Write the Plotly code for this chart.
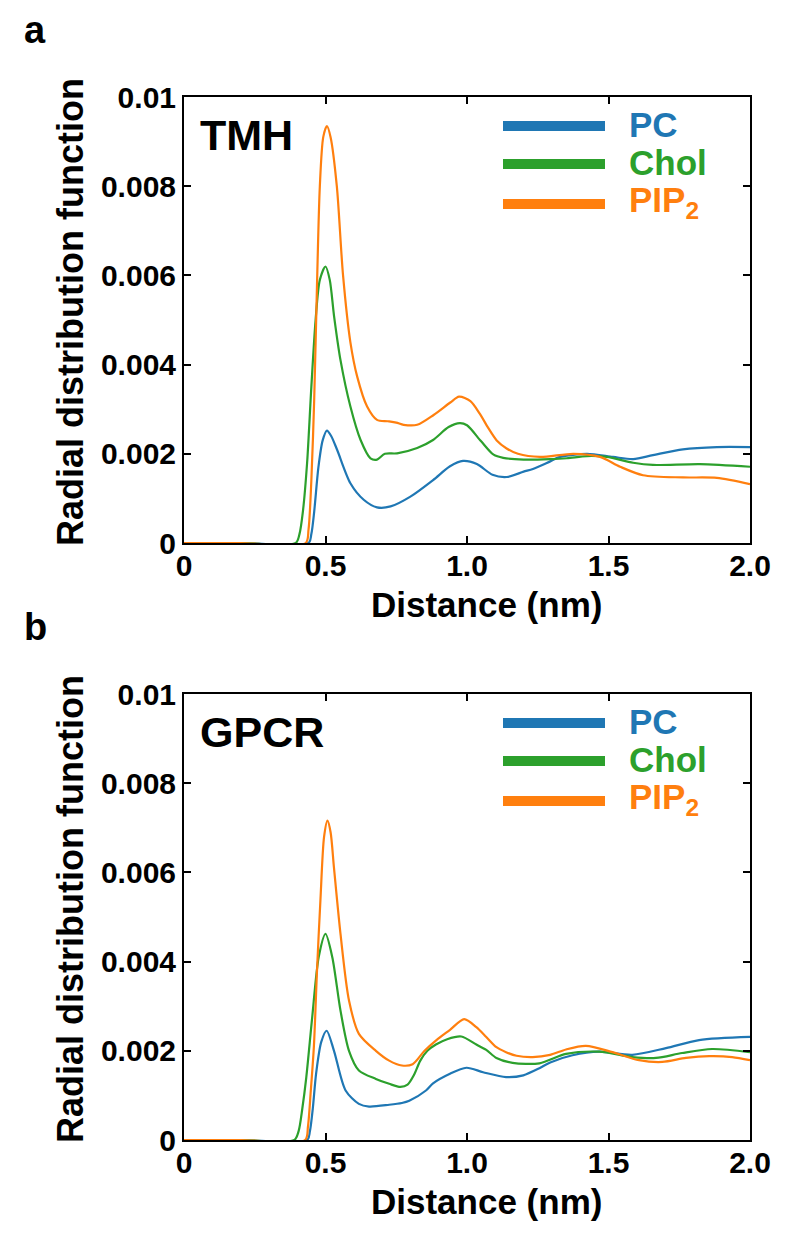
import plotly.graph_objects as go

# ---------------- data ----------------
series_names = ["PC", "Chol", "PIP<sub>2</sub>"]
series_colors = ["#1f77b4", "#2ca02c", "#ff7f0e"]
panel_titles = ["TMH", "GPCR"]
panel_letters = ["a", "b"]

x_tickvals = [0, 0.5, 1.0, 1.5, 2.0]
x_ticktext = ["0", "0.5", "1.0", "1.5", "2.0"]
y_tickvals = [0, 0.002, 0.004, 0.006, 0.008, 0.01]
y_ticktext = ["0", "0.002", "0.004", "0.006", "0.008", "0.01"]

# Panel a (TMH)
tmh_pc_x = [0, 0.2, 0.44, 0.45, 0.46, 0.475, 0.49, 0.505, 0.52, 0.541, 0.588, 0.635, 0.682, 0.73, 0.80, 0.88,
            0.94, 0.986, 1.035, 1.09, 1.141, 1.2, 1.233, 1.294, 1.329, 1.424, 1.516, 1.587, 1.657, 1.763,
            1.883, 2.0]
tmh_pc_y = [0, 0, 0, 0.0002, 0.0007, 0.0017, 0.0023, 0.00252, 0.0024, 0.00209, 0.00134, 0.00097, 0.0008,
            0.00082, 0.00104, 0.00141, 0.00172, 0.00184, 0.00177, 0.00153, 0.00148, 0.0016, 0.00166,
            0.00183, 0.00193, 0.002, 0.00193, 0.00188, 0.00197, 0.0021, 0.00215, 0.00215]

tmh_chol_x = [0, 0.2, 0.395, 0.408, 0.42, 0.435, 0.45, 0.465, 0.48, 0.50, 0.515, 0.53, 0.553, 0.588, 0.624,
              0.659, 0.682, 0.71, 0.753, 0.824, 0.88, 0.935, 0.975, 1.0, 1.05, 1.094, 1.128, 1.2, 1.294,
              1.353, 1.424, 1.494, 1.587, 1.657, 1.823, 2.0]
tmh_chol_y = [0, 0, 0, 0.0002, 0.0007, 0.0018, 0.0035, 0.0050, 0.0059, 0.0062, 0.0059, 0.0051, 0.0041,
              0.00306, 0.00231, 0.0019, 0.00187, 0.002, 0.00201, 0.00213, 0.00231, 0.0026, 0.00269,
              0.00264, 0.00228, 0.00198, 0.00191, 0.00187, 0.00188, 0.0019, 0.00195, 0.00193, 0.0018,
              0.00175, 0.00177, 0.00171]

tmh_pip2_x = [0, 0.2, 0.43, 0.44, 0.45, 0.46, 0.47, 0.48, 0.492, 0.505, 0.518, 0.54, 0.562, 0.588, 0.612,
              0.647, 0.682, 0.72, 0.75, 0.776, 0.824, 0.882, 0.941, 0.972, 1.012, 1.045, 1.075, 1.105,
              1.14, 1.18, 1.258, 1.376, 1.47, 1.541, 1.622, 1.763, 1.883, 2.0]
tmh_pip2_y = [0, 0, 0, 0.0003, 0.0014, 0.0032, 0.0058, 0.0080, 0.0091, 0.00935, 0.0091, 0.0080, 0.0060,
              0.0045, 0.00373, 0.00306, 0.00276, 0.00273, 0.0027, 0.00265, 0.00265, 0.00287, 0.00315,
              0.00328, 0.00318, 0.0029, 0.00258, 0.0023, 0.00212, 0.002, 0.00193, 0.002, 0.00193,
              0.00171, 0.00152, 0.00147, 0.00146, 0.00132]

# Panel b (GPCR)
gpcr_pc_x = [0, 0.2, 0.435, 0.445, 0.455, 0.467, 0.485, 0.504, 0.53, 0.571, 0.618, 0.654, 0.725, 0.77,
             0.796, 0.855, 0.88, 0.938, 0.998, 1.057, 1.138, 1.199, 1.256, 1.294, 1.373, 1.467, 1.584,
             1.703, 1.82, 2.0]
gpcr_pc_y = [0, 0, 0, 0.0002, 0.0007, 0.0015, 0.0022, 0.00245, 0.002, 0.00111, 0.00081, 0.00075, 0.00079,
             0.00083, 0.00088, 0.00111, 0.00127, 0.00148, 0.00162, 0.00152, 0.00141, 0.00145, 0.00161,
             0.00174, 0.0019, 0.00198, 0.00191, 0.00206, 0.00224, 0.00231]

gpcr_chol_x = [0, 0.2, 0.39, 0.405, 0.418, 0.432, 0.453, 0.476, 0.50, 0.524, 0.553, 0.583, 0.618, 0.678,
               0.725, 0.765, 0.79, 0.812, 0.835, 0.86, 0.89, 0.93, 0.98, 1.033, 1.068, 1.104, 1.161, 1.256,
               1.35, 1.467, 1.584, 1.668, 1.76, 1.866, 2.0]
gpcr_chol_y = [0, 0, 0, 0.0002, 0.0007, 0.0014, 0.00275, 0.0041, 0.00462, 0.0041, 0.0029, 0.002, 0.00156,
               0.00137, 0.00126, 0.00119, 0.00124, 0.00145, 0.00178, 0.002, 0.00214, 0.00226, 0.00232,
               0.00214, 0.00202, 0.00184, 0.00173, 0.00172, 0.00193, 0.00198, 0.00186, 0.00184, 0.00195,
               0.00204, 0.00197]

gpcr_pip2_x = [0, 0.2, 0.428, 0.438, 0.448, 0.459, 0.47, 0.482, 0.495, 0.507, 0.518, 0.53, 0.553, 0.583,
               0.618, 0.678, 0.725, 0.77, 0.808, 0.85, 0.892, 0.94, 0.99, 1.033, 1.068, 1.104, 1.138,
               1.175, 1.232, 1.294, 1.35, 1.42, 1.514, 1.608, 1.69, 1.774, 1.856, 1.937, 2.0]
gpcr_pip2_y = [0, 0, 0, 0.0003, 0.0011, 0.0021, 0.0038, 0.00537, 0.0068, 0.00716, 0.0069, 0.0061, 0.00462,
               0.00313, 0.00238, 0.002, 0.00178, 0.00167, 0.0017, 0.002, 0.00224, 0.00247, 0.00271,
               0.00253, 0.00231, 0.00208, 0.00197, 0.00189, 0.00186, 0.00191, 0.00203, 0.00211, 0.00197,
               0.00179, 0.00175, 0.00184, 0.00188, 0.00186, 0.00179]

panels = [
    [(tmh_pc_x, tmh_pc_y), (tmh_chol_x, tmh_chol_y), (tmh_pip2_x, tmh_pip2_y)],
    [(gpcr_pc_x, gpcr_pc_y), (gpcr_chol_x, gpcr_chol_y), (gpcr_pip2_x, gpcr_pip2_y)],
]

# ---------------- layout geometry ----------------
# Target pixel positions are given in screenshot coordinates; the page body
# adds an 8 px margin, so the figure margins are reduced by 8 px.
W, H = 800, 1246
PAGE_OFF = 8
SCR_L, SCR_R, SCR_T, SCR_B = 184, 750, 97, 1140   # plot area in screenshot px
L = SCR_L - PAGE_OFF
T = SCR_T - PAGE_OFF
R = W - (SCR_R - PAGE_OFF)
B = H - (SCR_B - PAGE_OFF)
plot_w = SCR_R - SCR_L          # 566
plot_h_total = SCR_B - SCR_T    # 1043
panel_px = [(97, 543), (694, 1140)]   # top, bottom of each panel (screenshot px)
ph = 446.0

def paper_y(py):
    return (SCR_B - py) / plot_h_total

def paper_x(px):
    return (px - SCR_L) / plot_w

FONT = "Liberation Sans, Arial, Helvetica, sans-serif"

fig = go.Figure()

axis_common = dict(
    showline=True, linecolor="black", linewidth=2, mirror="ticks",
    ticks="inside", ticklen=7, tickwidth=1.5, tickcolor="black",
    showgrid=False, zeroline=False,
    tickfont=dict(family=FONT, size=30, color="black", weight="bold"),
)

for i, series in enumerate(panels):
    xa = "x" if i == 0 else "x2"
    ya = "y" if i == 0 else "y2"
    for j, (xs, ys) in enumerate(series):
        fig.add_trace(go.Scatter(
            x=xs, y=ys, mode="lines", xaxis=xa, yaxis=ya,
            line=dict(color=series_colors[j], width=2.2, shape="spline", smoothing=0.8),
            showlegend=False, hoverinfo="skip",
        ))

top_a, bot_a = panel_px[0]
top_b, bot_b = panel_px[1]
xcommon = dict(range=[0, 2.0], tickvals=x_tickvals, ticktext=x_ticktext, ticklabelstandoff=-5, **axis_common)
ycommon = dict(range=[0, 0.01], tickvals=y_tickvals, ticktext=y_ticktext, ticklabelstandoff=0, **axis_common)
fig.update_layout(
    width=W, height=H,
    margin=dict(l=L, r=R, t=T, b=B, pad=0),
    paper_bgcolor="white", plot_bgcolor="white",
    xaxis=dict(domain=[0, 1], anchor="y", **xcommon),
    yaxis=dict(domain=[paper_y(bot_a), paper_y(top_a)], anchor="x", **ycommon),
    xaxis2=dict(domain=[0, 1], anchor="y2", **xcommon),
    yaxis2=dict(domain=[paper_y(bot_b), paper_y(top_b)], anchor="x2", **ycommon),
)

legend_line_x0, legend_line_x1 = 503, 605
legend_text_x = 627
legend_rows_py = [126, 164, 204]   # panel a; panel b is offset

shapes = []
annotations = []
for i in range(2):
    top, bot = panel_px[i]
    off = top - panel_px[0][0]
    xd = "x domain" if i == 0 else "x2 domain"
    yd = "y domain" if i == 0 else "y2 domain"
    for j, name in enumerate(series_names):
        py = legend_rows_py[j] + off
        yf = (bot - py) / ph
        shapes.append(dict(type="line", xref=xd, yref=yd,
                           x0=(legend_line_x0 - SCR_L) / plot_w, x1=(legend_line_x1 - SCR_L) / plot_w,
                           y0=yf, y1=yf, line=dict(color=series_colors[j], width=10)))
        annotations.append(dict(xref=xd, yref=yd, x=(legend_text_x - SCR_L) / plot_w, y=yf + 0.004,
                                xanchor="left", yanchor="middle", showarrow=False, text=name,
                                font=dict(family=FONT, size=35, color=series_colors[j], weight="bold")))
    annotations.append(dict(xref=xd, yref=yd, x=(198 - SCR_L) / plot_w, y=(bot - (135 + off)) / ph,
                            xanchor="left", yanchor="middle", showarrow=False, text=panel_titles[i],
                            font=dict(family=FONT, size=43, color="black", weight="bold")))
    annotations.append(dict(xref="paper", yref="paper", x=paper_x(22), y=paper_y(30 + off),
                            xanchor="left", yanchor="middle", showarrow=False, text=panel_letters[i],
                            font=dict(family=FONT, size=38, color="black", weight="bold")))
    annotations.append(dict(xref="paper", yref="paper", x=paper_x(486), y=paper_y(604 + off),
                            xanchor="center", yanchor="middle", showarrow=False, text="Distance (nm)",
                            font=dict(family=FONT, size=35, color="black", weight="bold")))
    annotations.append(dict(xref="paper", yref="paper", x=paper_x(70), y=paper_y((top + bot) / 2 - 8),
                            xanchor="center", yanchor="middle", showarrow=False, textangle=-90,
                            text="Radial distribution function",
                            font=dict(family=FONT, size=36, color="black", weight="bold")))

fig.update_layout(shapes=shapes, annotations=annotations)

fig.write_html("out.html")
